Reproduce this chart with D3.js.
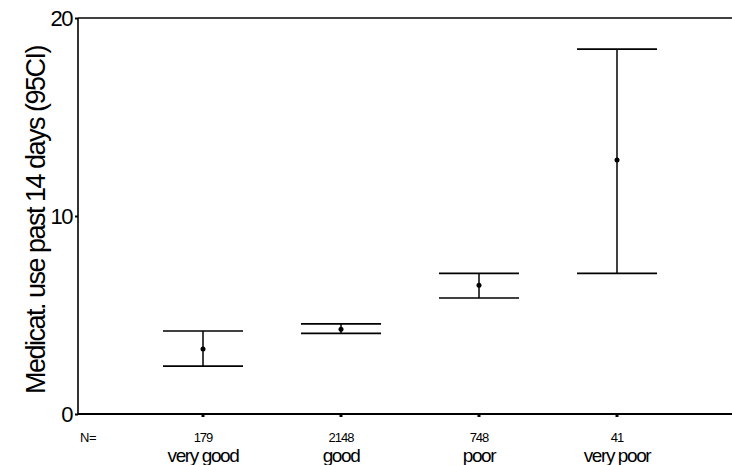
<!DOCTYPE html>
<html>
<head>
<meta charset="utf-8">
<script src="https://cdn.jsdelivr.net/npm/d3@7"></script>
<style>
  body { margin: 0; background: #fff; }
  svg text { font-family: "Liberation Sans", Arial, sans-serif; fill: #000; }
</style>
</head>
<body>
<div id="chart"></div>
<script>
// data
const categories = ["very good", "good", "poor", "very poor"]
const counts = [179, 2148, 748, 41]
const means = [3.28, 4.28, 6.5, 12.83]
const lower = [2.42, 4.07, 5.86, 7.1]
const upper = [4.19, 4.55, 7.1, 18.43]
const yTicks = [0, 10, 20]

const width = 732, height = 465
const plotLeft = 78, plotTop = 18, plotBottom = 414

const svg = d3.select("#chart").append("svg")
  .attr("width", width)
  .attr("height", height)

const y = d3.scaleLinear().domain([0, 20]).range([plotBottom, plotTop])
const x = d3.scalePoint().domain(categories).range([203, 617])

// frame: left axis, top line, bottom axis
svg.append("line").attr("x1", plotLeft).attr("x2", plotLeft).attr("y1", plotTop).attr("y2", plotBottom)
  .attr("stroke", "#000").attr("stroke-width", 1.6)
svg.append("line").attr("x1", plotLeft).attr("x2", width).attr("y1", plotTop).attr("y2", plotTop)
  .attr("stroke", "#000").attr("stroke-width", 1.6)
svg.append("line").attr("x1", plotLeft).attr("x2", width).attr("y1", plotBottom).attr("y2", plotBottom)
  .attr("stroke", "#000").attr("stroke-width", 1.8)

// y axis ticks + labels
const yAxis = d3.axisLeft(y).tickValues(yTicks).tickSize(3).tickPadding(3)
const gy = svg.append("g").attr("transform", "translate(" + plotLeft + ",0)").call(yAxis)
gy.select(".domain").remove()
gy.selectAll(".tick line").attr("stroke-width", 2)
gy.selectAll(".tick text")
  .style("font-size", "22px")
  .style("letter-spacing", "-1.5px")
  .attr("dy", "0.35em")

// y axis title
svg.append("text")
  .attr("transform", "translate(45," + ((plotTop + plotBottom) / 2 + 4) + ") rotate(-90)")
  .attr("text-anchor", "middle")
  .style("font-size", "27px")
  .style("letter-spacing", "-1.5px")
  .text("Medicat. use past 14 days (95CI)")

// x ticks
svg.selectAll(".xtick").data(categories).enter().append("line")
  .attr("x1", d => x(d)).attr("x2", d => x(d))
  .attr("y1", plotBottom).attr("y2", plotBottom + 3)
  .attr("stroke", "#000").attr("stroke-width", 3)

// N labels
svg.append("text").attr("x", 80).attr("y", 442)
  .style("font-size", "13px").style("letter-spacing", "-0.5px").text("N=")
svg.selectAll(".cnt").data(counts).enter().append("text")
  .attr("x", (d, i) => x(categories[i])).attr("y", 442)
  .attr("text-anchor", "middle")
  .style("font-size", "13px").style("letter-spacing", "-1px")
  .text(d => d)
svg.selectAll(".cat").data(categories).enter().append("text")
  .attr("x", d => x(d)).attr("y", 462)
  .attr("text-anchor", "middle")
  .style("font-size", "19px").style("letter-spacing", "-1.4px")
  .text(d => d)

// error bars
const capHalf = 40
const bars = svg.selectAll(".bar").data(categories).enter().append("g")
bars.append("line")
  .attr("x1", d => x(d)).attr("x2", d => x(d))
  .attr("y1", (d, i) => y(lower[i])).attr("y2", (d, i) => y(upper[i]))
  .attr("stroke", "#000").attr("stroke-width", 1.5)
bars.append("line")
  .attr("x1", d => x(d) - capHalf).attr("x2", d => x(d) + capHalf)
  .attr("y1", (d, i) => y(upper[i])).attr("y2", (d, i) => y(upper[i]))
  .attr("stroke", "#000").attr("stroke-width", 1.6)
bars.append("line")
  .attr("x1", d => x(d) - capHalf).attr("x2", d => x(d) + capHalf)
  .attr("y1", (d, i) => y(lower[i])).attr("y2", (d, i) => y(lower[i]))
  .attr("stroke", "#000").attr("stroke-width", 1.6)
bars.append("circle")
  .attr("cx", d => x(d)).attr("cy", (d, i) => y(means[i]))
  .attr("r", 2.5).attr("fill", "#000")
</script>
</body>
</html>
